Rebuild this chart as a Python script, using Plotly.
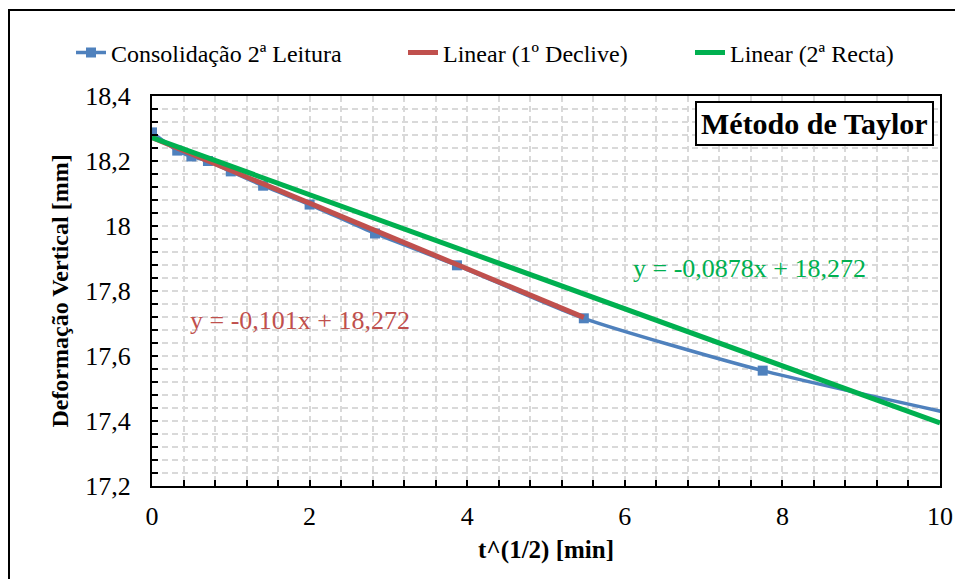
import plotly.graph_objects as go

# ---- data ----
t_sqrt = [0, 0.32, 0.5, 0.71, 1.0, 1.41, 2.0, 2.83, 3.87, 5.48, 7.75, 10.95]
deform = [18.288, 18.232, 18.214, 18.200, 18.168, 18.124, 18.066, 17.977, 17.879, 17.716, 17.555, 17.38]

lin1_x = [0, 5.48]
lin1_y = [18.272, 17.719]

lin2_x = [0, 10]
lin2_y = [18.272, 17.394]

x_ticks = [0, 2, 4, 6, 8, 10]
y_ticks = [17.2, 17.4, 17.6, 17.8, 18.0, 18.2, 18.4]

BLUE = "#4F81BD"
RED = "#C0504D"
GREEN = "#00B050"
FONT = "Liberation Serif, Times New Roman, serif"

fig = go.Figure()
fig.add_trace(go.Scatter(
    x=t_sqrt, y=deform, mode="lines+markers", name="Consolidação 2ª Leitura",
    line=dict(color=BLUE, width=3.5, shape="spline", smoothing=0.6),
    marker=dict(symbol="square", size=10, color=BLUE),
    legend="legend"))
fig.add_trace(go.Scatter(
    x=lin1_x, y=lin1_y, mode="lines", name="Linear (1º Declive)",
    line=dict(color=RED, width=5), legend="legend2"))
fig.add_trace(go.Scatter(
    x=lin2_x, y=lin2_y, mode="lines", name="Linear (2ª Recta)",
    line=dict(color=GREEN, width=5), legend="legend3"))

# body margin removed by post_script, so figure starts at page (0,0)
OFF = 0
L = 152          # page px of plot left
PW = 788
PH = 390
BOT = 486        # page px of plot bottom
TOP = BOT - PH
FW = 955 - OFF
FH = 579 - OFF

def px2paper_x(px):
    return (px - L) / PW

def px2paper_y(py):
    return (BOT - py) / PH

legfont = dict(family=FONT, size=24, color="black")
common_leg = dict(orientation="h", yanchor="middle", xanchor="left",
                  font=legfont, bgcolor="rgba(0,0,0,0)", borderwidth=0)

ml = L - OFF
mt = TOP - OFF
fig.update_layout(
    width=FW, height=FH,
    margin=dict(l=ml, r=FW - ml - PW, t=mt, b=FH - mt - PH, autoexpand=False),
    paper_bgcolor="white", plot_bgcolor="white",
    separators=", ",
    showlegend=True,
    font=dict(family=FONT, color="black"),
    legend=dict(x=px2paper_x(71), y=px2paper_y(53), **common_leg),
    legend2=dict(x=px2paper_x(403), y=px2paper_y(53), **common_leg),
    legend3=dict(x=px2paper_x(690), y=px2paper_y(53), **common_leg),
    xaxis=dict(
        range=[0, 10], tickvals=x_ticks, automargin=False,
        ticks="inside", ticklen=6, tickwidth=1.5, tickcolor="black",
        showline=True, linecolor="black", linewidth=2, mirror=True,
        showgrid=True, gridcolor="#D9D9D9", gridwidth=1.5, griddash="6px,4px",
        zeroline=False,
        tickfont=dict(family=FONT, size=26, color="black"),
        ticklabelstandoff=6,
        minor=dict(dtick=0.4, ticks="inside", ticklen=6, tickcolor="black",
                   showgrid=True, gridcolor="#D9D9D9", gridwidth=1.5, griddash="6px,4px"),
        title=dict(text="<b>t^(1/2) [min]</b>", font=dict(family=FONT, size=25, color="black"),
                   standoff=10),
    ),
    yaxis=dict(
        range=[17.2, 18.4], tickvals=y_ticks, automargin=False,
        ticks="inside", ticklen=6, tickwidth=1.5, tickcolor="black",
        showline=True, linecolor="black", linewidth=2, mirror=True,
        showgrid=True, gridcolor="#D9D9D9", gridwidth=1.5, griddash="6px,4px",
        zeroline=False,
        tickfont=dict(family=FONT, size=26, color="black"),
        ticklabelstandoff=14,
        minor=dict(dtick=0.04, ticks="inside", ticklen=6, tickcolor="black",
                   showgrid=True, gridcolor="#D9D9D9", gridwidth=1.5, griddash="6px,4px"),
        title=dict(text="<b>Deformação Vertical [mm]</b>", font=dict(family=FONT, size=24, color="black"),
                   standoff=10),
    ),
    shapes=[dict(type="rect", xref="paper", yref="paper",
                 x0=px2paper_x(9), x1=px2paper_x(975), y0=px2paper_y(600), y1=px2paper_y(10),
                 line=dict(color="black", width=2), fillcolor="rgba(0,0,0,0)", layer="above")],
    annotations=[
        dict(text="<b>Método de Taylor</b>", xref="paper", yref="paper",
             x=px2paper_x(814.5), y=px2paper_y(124), xanchor="center", yanchor="middle",
             showarrow=False, font=dict(family=FONT, size=30, color="black"),
             bgcolor="white", bordercolor="black", borderwidth=2, borderpad=4),
        dict(text="y = -0,101x + 18,272", xref="paper", yref="paper",
             x=px2paper_x(300), y=px2paper_y(320), xanchor="center", yanchor="middle",
             showarrow=False, font=dict(family=FONT, size=26, color=RED)),
        dict(text="y = -0,0878x + 18,272", xref="paper", yref="paper",
             x=px2paper_x(749), y=px2paper_y(268), xanchor="center", yanchor="middle",
             showarrow=False, font=dict(family=FONT, size=26, color=GREEN)),
    ],
)

fig.write_html(
    "out.html",
    config={"displayModeBar": False},
    post_script="document.body.style.margin='0';document.documentElement.style.overflow='hidden';document.body.style.overflow='hidden';",
)
